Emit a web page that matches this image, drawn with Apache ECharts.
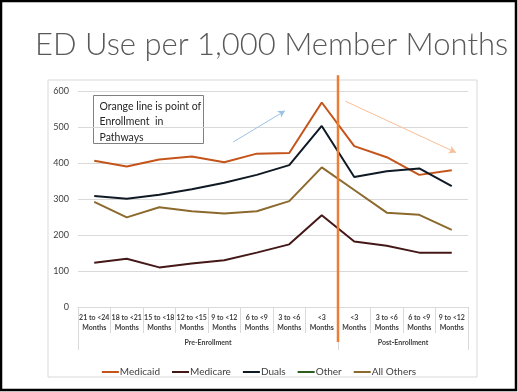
<!DOCTYPE html>
<html>
<head>
<meta charset="utf-8">
<script src="https://cdn.jsdelivr.net/npm/echarts@6/dist/echarts.min.js"></script>
<style>
html,body{margin:0;padding:0;background:#fff;}
#c{width:518px;height:392px;}
</style>
</head>
<body>
<div id="c"></div>
<script>
const categories = ['21 to <24\nMonths','18 to <21\nMonths','15 to <18\nMonths','12 to <15\nMonths','9 to <12\nMonths','6 to <9\nMonths','3 to <6\nMonths','<3\nMonths','<3\nMonths','3 to <6\nMonths','6 to <9\nMonths','9 to <12\nMonths'];
const medicaid = [406,390,410,418,402,426,428,568,447,416,367,380];
const medicare = [123,134,110,121,130,151,174,255,182,170,151,151];
const duals    = [308,301,312,327,345,367,394,503,361,377,385,336];
const other    = [null,null,null,null,null,null,null,null,null,null,null,null];
const allOthers= [292,249,277,266,260,266,294,388,325,262,256,214];
const yTicks = [0,100,200,300,400,500,600];
const groups = [{name:'Pre-Enrollment', center:4}, {name:'Post-Enrollment', center:10}];
const groupBounds = [0,8,12];
const enrollmentAt = 8;
const enrollmentLine = [[enrollmentAt,-97],[enrollmentAt,644]];
const upArrow = [[4.77,458],[6.37,545]];
const downArrow = [[8.22,572],[11.63,429]];

const font = 'Lato, "Open Sans", sans-serif';
const chart = echarts.init(document.getElementById('c'), null, {renderer:'canvas'});
const mk = (name, data, color) => ({
  name, type:'line', data, xAxisIndex:0, yAxisIndex:0,
  symbol:'none', smooth:false, color,
  lineStyle:{color, width:2}
});
chart.setOption({
  animation:false,
  backgroundColor:'#fff',
  title:{
    text:'ED Use per 1,000 Member Months',
    left:30, top:24,
    textStyle:{fontFamily:font, fontWeight:300, fontSize:31, color:'#595959'}
  },
  grid:{left:78, right:50, top:91, bottom:85},
  legend:{
    data:['Medicaid','Medicare','Duals','Other','All Others'],
    bottom:10, left:'center',
    icon:'rect', itemWidth:17, itemHeight:2, itemGap:12,
    textStyle:{fontFamily:font, fontSize:10, color:'#404040', padding:[0,0,0,-4]}
  },
  xAxis:[{
    type:'category', data:categories, position:'bottom', boundaryGap:true,
    axisLine:{show:true, lineStyle:{color:'#D9D9D9', width:1}},
    axisTick:{show:true, length:26, interval:0, lineStyle:{color:'#D9D9D9'}},
    axisLabel:{interval:0, fontFamily:font, fontSize:7, fontWeight:'bold', color:'#404040', lineHeight:10, margin:6},
    splitLine:{show:false}
  },{
    type:'value', min:0, max:12, position:'bottom',
    axisLine:{show:false},
    axisTick:{show:true, customValues:groupBounds, length:43, lineStyle:{color:'#D9D9D9'}},
    axisLabel:{customValues:groups.map(g=>g.center), formatter:v=>{const g=groups.find(x=>x.center===v);return g?g.name:'';}, fontFamily:font, fontSize:7, fontWeight:'bold', color:'#404040', margin:32},
    splitLine:{show:false}
  }],
  yAxis:[{
    type:'value', min:0, max:600, interval:100,
    axisLine:{show:false}, axisTick:{show:false},
    axisLabel:{fontFamily:font, fontSize:9, color:'#404040', margin:9},
    splitLine:{lineStyle:{color:'#D9D9D9', width:1}}
  }],
  series:[
    mk('Medicaid', medicaid, '#C4541A'),
    mk('Medicare', medicare, '#451818'),
    mk('Duals', duals, '#101A24'),
    mk('Other', other, '#2E5E1E'),
    mk('All Others', allOthers, '#8C6A2E'),
    {
      name:'Enrollment', type:'line', xAxisIndex:1, yAxisIndex:0, clip:false,
      data:enrollmentLine, symbol:'none', color:'#ED7D31',
      lineStyle:{color:'#ED7D31', width:2.5}, z:5,
      markLine:{
        silent:true, symbol:['none','arrow'], symbolSize:[6,7],
        label:{show:false},
        data:[
          [{coord:upArrow[0], lineStyle:{color:'#9DC3E6', width:1, type:'solid'}},{coord:upArrow[1]}],
          [{coord:downArrow[0], lineStyle:{color:'#F8BE96', width:1, type:'solid'}},{coord:downArrow[1]}]
        ]
      }
    }
  ],
  graphic:[
    {type:'rect', shape:{x:1, y:1, width:515, height:389}, style:{fill:'none', stroke:'#000', lineWidth:2.5}, z:100},
    {type:'rect', shape:{x:48, y:80, width:429, height:297}, style:{fill:'none', stroke:'#D9D9D9', lineWidth:1}, z:1},
    {type:'group', left:93, top:95, z:50, children:[
      {type:'rect', shape:{x:0, y:0, width:110, height:48}, style:{fill:'#fff', stroke:'#808080', lineWidth:1}},
      {type:'text', x:6, y:3, style:{text:'Orange line is point of\nEnrollment  in\nPathways', fontFamily:font, fontSize:10.5, lineHeight:15.5, fill:'#262626'}}
    ]}
  ]
});
</script>
</body>
</html>
